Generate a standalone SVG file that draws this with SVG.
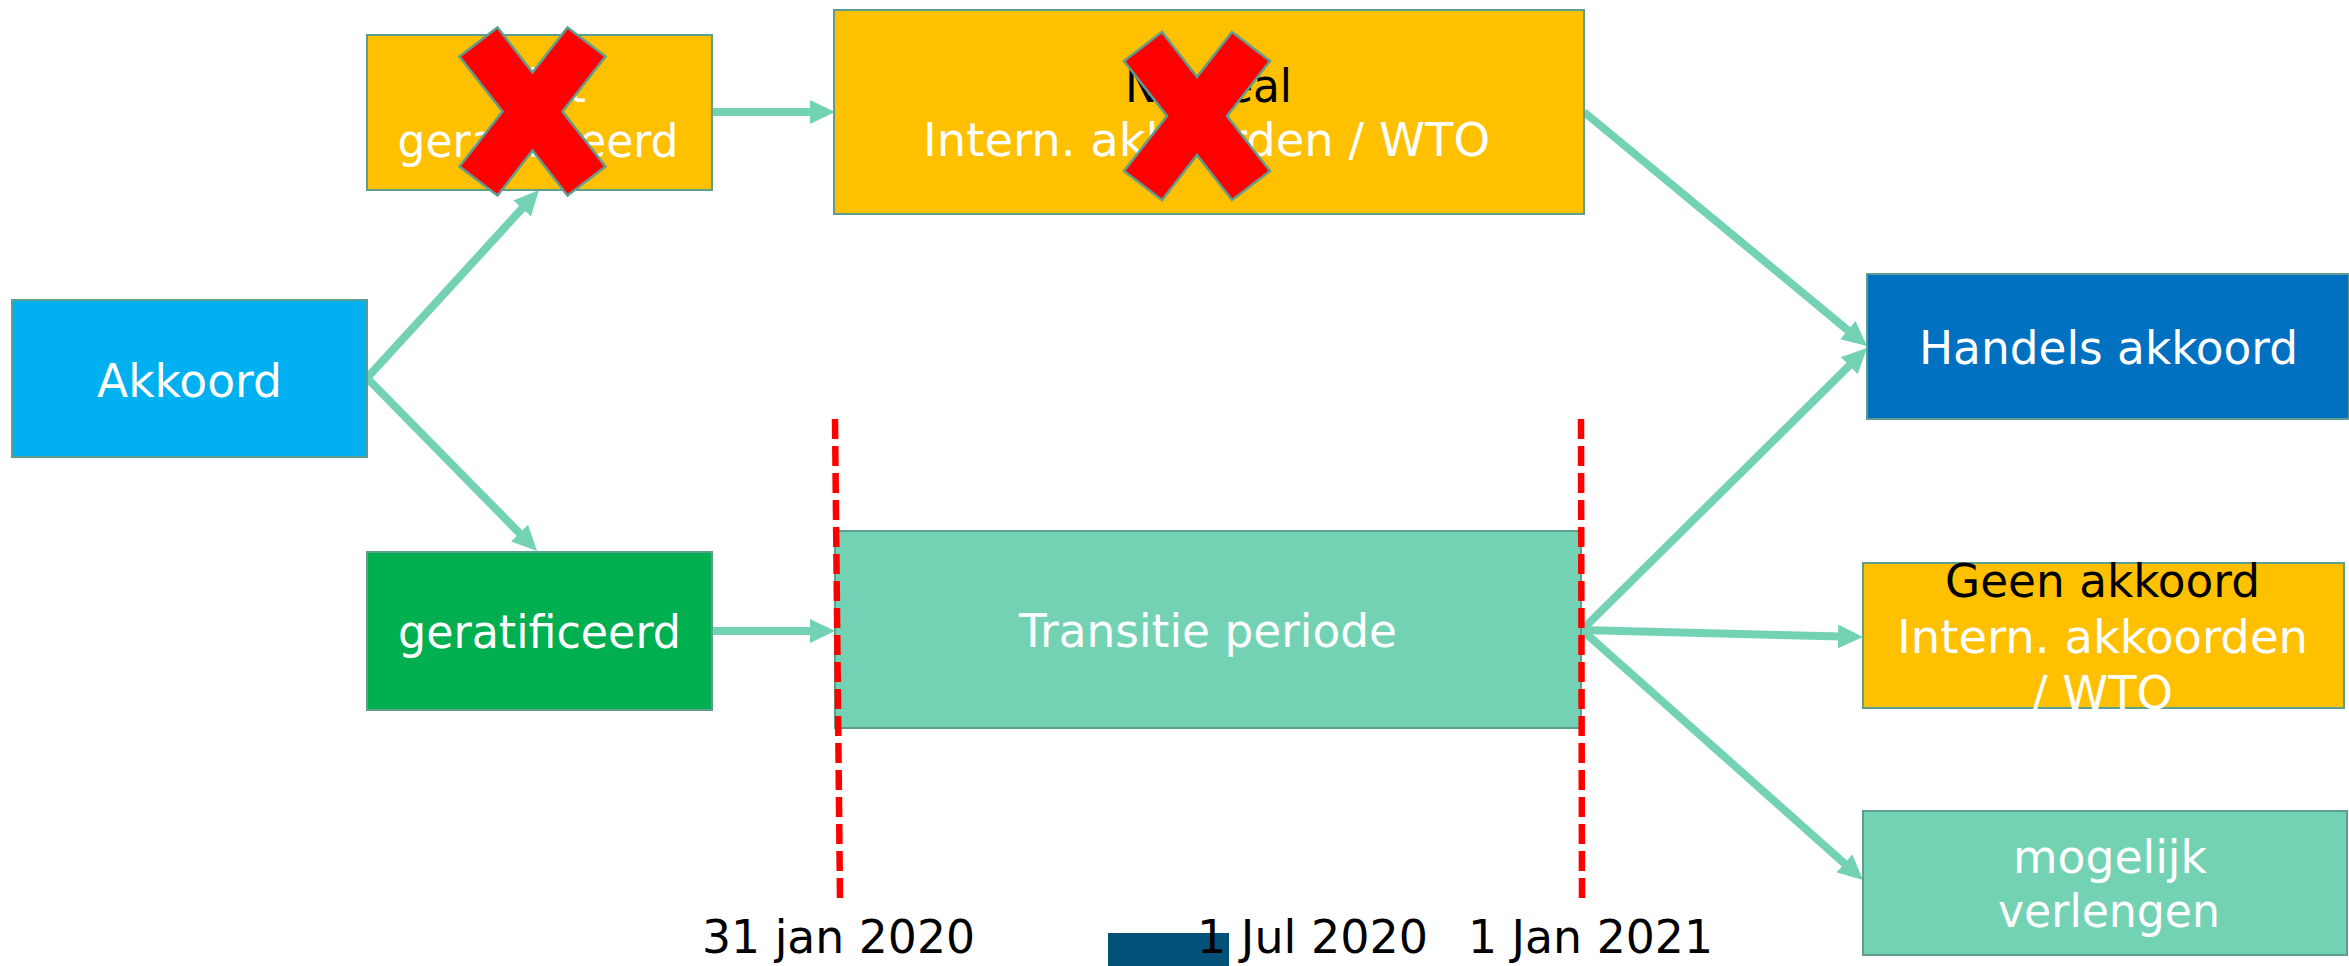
<svg xmlns="http://www.w3.org/2000/svg" width="2349" height="966" viewBox="0 0 2349 966">
<style>
.box{stroke:#5E9E8E;stroke-width:2}
.t{font-family:"DejaVu Sans","Verdana",sans-serif;font-size:47px;text-anchor:middle}
.w{fill:#FFFFFF}
.k{fill:#000000}
.c{stroke:#74D2B4;stroke-width:8;fill:none;marker-end:url(#ah)}
.dash{stroke:#FF0000;stroke-width:6.5;stroke-dasharray:20 7;fill:none}
.x{fill:#FF0000;stroke:#5E9E8E;stroke-width:2.5;stroke-linejoin:miter}
.d{font-family:"DejaVu Sans","Verdana",sans-serif;font-size:47px;fill:#000000}
</style>
<defs>
<marker id="ah" markerUnits="userSpaceOnUse" markerWidth="25" markerHeight="24" refX="5" refY="12" orient="auto">
<path d="M0,0 L25,12 L0,24 z" fill="#74D2B4"/>
</marker>
<polygon id="cross" points="-73,-55 -35,-84 0,-39 35,-84 73,-55 30,0 73,55 35,84 0,39 -35,84 -73,55 -30,0"/>
</defs>
<rect width="2349" height="966" fill="#FFFFFF"/>
<g id="connectors">
<line class="c" x1="367" y1="378" x2="525.5" y2="204.8"/>
<line class="c" x1="367" y1="378" x2="523" y2="536.7"/>
<line class="c" x1="712" y1="112" x2="815" y2="112"/>
<line class="c" x1="712" y1="631" x2="815" y2="631"/>
<line class="c" x1="1584" y1="112" x2="1851.6" y2="333.3"/>
<line class="c" x1="1582" y1="630" x2="1852.8" y2="362.1"/>
<line class="c" x1="1582" y1="630" x2="1843" y2="636.5"/>
<line class="c" x1="1582" y1="630" x2="1848.1" y2="866.7"/>
</g>
<g id="node-akkoord">
<rect class="box" x="12" y="300" width="355" height="157" fill="#00B0F0"/>
<text class="t w" x="189.5" y="397" textLength="185" lengthAdjust="spacingAndGlyphs">Akkoord</text>
</g>
<g id="node-niet-geratificeerd">
<rect class="box" x="367" y="35" width="345" height="155" fill="#FFC000"/>
<text class="t w" x="539.5" y="102" textLength="93" lengthAdjust="spacingAndGlyphs">Niet</text>
<text class="t w" x="538" y="157" textLength="281" lengthAdjust="spacingAndGlyphs">geratificeerd</text>
</g>
<g id="node-geratificeerd">
<rect class="box" x="367" y="552" width="345" height="158" fill="#00B050"/>
<text class="t w" x="539.5" y="648" textLength="283" lengthAdjust="spacingAndGlyphs">geratificeerd</text>
</g>
<g id="node-no-deal">
<rect class="box" x="834" y="10" width="750" height="204" fill="#FFC000"/>
<text class="t k" x="1208.5" y="102" textLength="167" lengthAdjust="spacingAndGlyphs">No deal</text>
<text class="t w" x="1206.5" y="156" textLength="567" lengthAdjust="spacingAndGlyphs">Intern. akkoorden / WTO</text>
</g>
<g id="node-transitie">
<rect class="box" x="835" y="531" width="746" height="197" fill="#74D2B4"/>
<text class="t w" x="1208" y="647" textLength="378" lengthAdjust="spacingAndGlyphs">Transitie periode</text>
</g>
<g id="node-handels">
<rect class="box" x="1867" y="274" width="482" height="145" fill="#0070C0"/>
<text class="t w" x="2108.5" y="364" textLength="379" lengthAdjust="spacingAndGlyphs">Handels akkoord</text>
</g>
<g id="node-geen-akkoord">
<rect class="box" x="1863" y="563" width="481" height="145" fill="#FFC000"/>
<text class="t k" x="2102.5" y="597" textLength="315" lengthAdjust="spacingAndGlyphs">Geen akkoord</text>
<text class="t w" x="2102.5" y="653" textLength="411" lengthAdjust="spacingAndGlyphs">Intern. akkoorden</text>
<text class="t w" x="2102.5" y="709" textLength="141" lengthAdjust="spacingAndGlyphs">/ WTO</text>
</g>
<g id="node-mogelijk">
<rect class="box" x="1863" y="811" width="484" height="144" fill="#74D2B4"/>
<text class="t w" x="2110" y="873" textLength="194" lengthAdjust="spacingAndGlyphs">mogelijk</text>
<text class="t w" x="2109" y="927" textLength="222" lengthAdjust="spacingAndGlyphs">verlengen</text>
</g>
<g id="timeline">
<line class="dash" x1="835" y1="419" x2="840" y2="898"/>
<line class="dash" x1="1581" y1="419" x2="1582" y2="899"/>
<rect x="1108" y="933" width="121" height="33" fill="#035079"/>
<text class="d" x="702" y="953" textLength="273" lengthAdjust="spacingAndGlyphs">31 jan 2020</text>
<text class="d" x="1197" y="953" textLength="231" lengthAdjust="spacingAndGlyphs">1 Jul 2020</text>
<text class="d" x="1468" y="953" textLength="245" lengthAdjust="spacingAndGlyphs">1 Jan 2021</text>
</g>
<g id="crosses">
<use href="#cross" class="x" transform="translate(532.5,111.5)"/>
<use href="#cross" class="x" transform="translate(1197,116)"/>
</g>
</svg>
